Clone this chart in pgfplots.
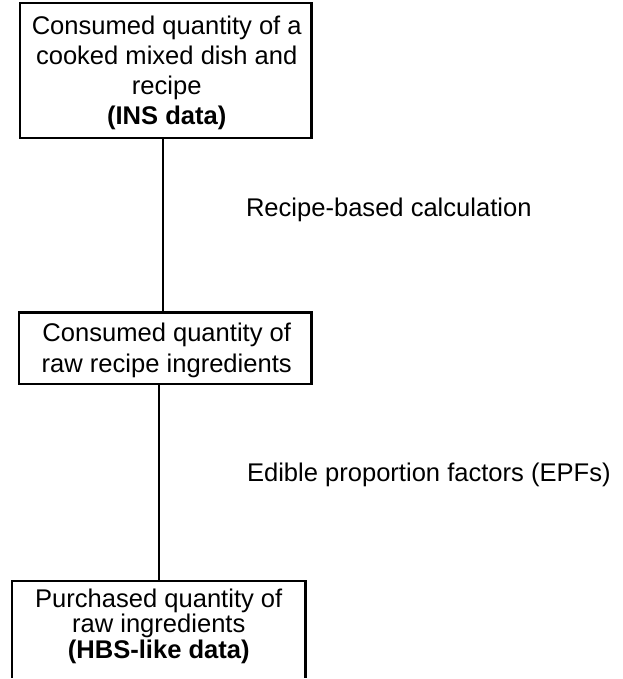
\documentclass[border=0pt]{standalone}
\usepackage{pgfplots}
\pgfplotsset{compat=1.18}
\usepackage{fontspec}
\setmainfont{Liberation Sans}
\begin{document}
\begin{tikzpicture}
\begin{axis}[x=0.5pt, y=0.5pt, xmin=0, xmax=624, ymin=0, ymax=679,
  axis lines=none, clip=false, scale only axis]
\addplot[draw=none, forget plot] coordinates {(0,0) (624,679)};
% boxes
\addplot[black, line width=1.1pt, line join=miter, forget plot] coordinates {(20,676) (312,676) (312,541) (20,541) (20,676) (312,676)};
\addplot[black, line width=1.1pt, line join=miter, forget plot] coordinates {(19,366) (312,366) (312,294) (19,294) (19,366) (312,366)};
\addplot[black, line width=1.1pt, line join=miter, forget plot] coordinates {(12,0) (12,97) (306,97) (306,0)};
% connectors
\addplot[black, line width=1.1pt, forget plot] coordinates {(163,541) (163,366)};
\addplot[black, line width=1.1pt, forget plot] coordinates {(159,294) (159,97)};
% texts
\tikzset{t/.style={anchor=base, inner sep=0pt, font=\fontsize{12.8}{15}\selectfont}}
\node[t] at (axis cs:167,644) {Consumed quantity of a};
\node[t] at (axis cs:167,614) {cooked mixed dish and};
\node[t] at (axis cs:167,584) {recipe};
\node[t] at (axis cs:167,554) {\bfseries (INS data)};
\node[t] at (axis cs:167,337) {Consumed quantity of};
\node[t] at (axis cs:167,306) {raw recipe ingredients};
\node[t] at (axis cs:159,71) {Purchased quantity of};
\node[t] at (axis cs:159,45) {raw ingredients};
\node[t] at (axis cs:159,19) {\bfseries (HBS-like data)};
\node[t, anchor=base west] at (axis cs:246,462) {Recipe-based calculation};
\node[t, anchor=base west] at (axis cs:247,197) {Edible proportion factors (EPFs)};
\end{axis}
\end{tikzpicture}
\end{document}
